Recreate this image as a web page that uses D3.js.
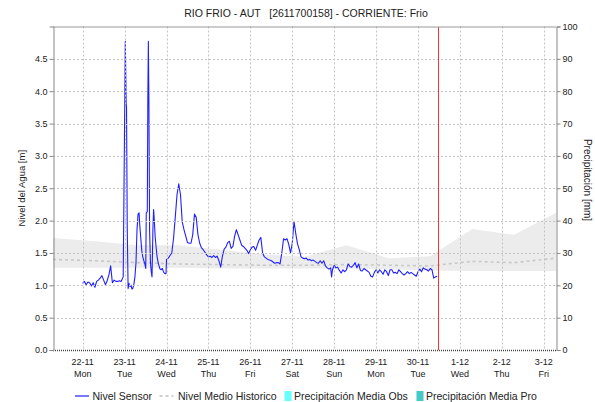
<!DOCTYPE html>
<html>
<head>
<meta charset="utf-8">
<script src="https://cdn.jsdelivr.net/npm/d3@7"></script>
<style>
  html, body { margin: 0; padding: 0; background: #fff; }
  svg { display: block; font-family: "Liberation Sans", Arial, sans-serif; }
</style>
</head>
<body>
<svg id="chart" width="595" height="402"></svg>
<script>
// Station title
const chartTitle = "RIO FRIO - AUT   [2611700158] - CORRIENTE: Frio";

// Sensor level: hours since 22-11 00:00 and level in metres
const sensorHours = [
  0,1,2,3,4,5,6,7,8,9,10,11,12,13,14,15,16,17,18,19,20,21,22,
  23.2,23.8,24.4,24.9,25.1,25.5,26,
  26.5,27.1,27.7,28.2,28.8,29.4,29.9,30.5,31.1,31.7,32.3,32.6,33.2,33.8,34.4,34.9,35.5,36.1,
  36.4,37.0,37.3,37.6,37.9,38.3,38.8,39.3,39.7,40.2,40.6,41.0,41.5,42.0,42.6,43.3,44.1,44.8,45.6,46.4,47.1,47.7,
  48,49,50,51,52,53,54,55,56,57,58,59,60,61,62,63,64,65,66,67,68,69,70,71,72,73,74,75,76,77,78,79,
  80,81,82,83,84,85,86,87,88,89,90,91,92,93,94,95,96,97,98,99,100,101,102,103,104,105,106,107,108,109,
  110,111,112,113,114,115,116,117,118,119,120,121,122,123,124,125,126,127,128,129,130,131,132,133,134,
  135,136,137,138,139,140,141,142,142.5,143,144,145,146,147,148,149,150,151,152,153,154,155,156,157,158,
  159,160,161,162,163,164,165,166,167,168,169,170,171,172,173,174,175,176,177,178,179,180,181,182,183,
  184,185,186,187,188,189,190,191,192,193,194,195,196,197,198,199,200,201,202,203
];
const sensorLevel = [
  1.03,1.06,1.01,1.05,1.04,0.99,1.04,0.97,1.06,1.08,1.11,1.15,1.08,1.01,1.07,1.16,1.30,1.04,1.08,1.06,1.06,1.07,1.06,
  1.13,2.94,4.77,3.80,3.75,1.91,0.95,
  1.03,0.98,1.00,0.94,0.96,1.03,1.13,1.34,1.86,2.10,2.12,1.96,1.75,1.54,1.44,1.39,1.34,1.26,
  2.12,2.14,3.89,4.77,3.90,1.86,1.35,1.20,1.13,1.86,2.17,2.01,1.75,1.60,1.44,1.34,1.26,1.24,1.26,1.20,1.18,1.18,
  1.40,1.42,1.46,1.50,1.72,2.05,2.40,2.57,2.40,1.98,1.86,1.76,1.66,1.65,1.65,1.78,2.10,2.05,1.78,1.65,1.58,1.55,1.51,1.47,1.44,1.45,1.43,1.46,1.43,1.45,1.38,1.28,
  1.45,1.56,1.59,1.66,1.68,1.57,1.60,1.76,1.86,1.78,1.70,1.62,1.60,1.57,1.54,1.49,1.55,1.59,1.60,1.54,1.62,1.70,1.74,1.50,1.44,1.42,1.40,1.39,1.38,1.36,
  1.34,1.35,1.35,1.33,1.50,1.72,1.70,1.72,1.63,1.50,1.65,1.99,1.80,1.64,1.55,1.44,1.42,1.41,1.42,1.39,1.40,1.38,1.39,1.37,1.35,
  1.34,1.38,1.34,1.38,1.30,1.27,1.25,1.27,1.13,1.24,1.31,1.27,1.28,1.23,1.19,1.24,1.21,1.24,1.33,1.29,1.28,1.31,1.35,1.27,1.33,
  1.23,1.22,1.26,1.24,1.22,1.20,1.14,1.13,1.20,1.24,1.19,1.24,1.21,1.17,1.24,1.21,1.15,1.24,1.24,1.19,1.20,1.18,1.24,1.21,1.18,
  1.16,1.18,1.21,1.18,1.20,1.18,1.16,1.14,1.21,1.25,1.21,1.27,1.25,1.24,1.22,1.26,1.24,1.11,1.13,1.14
];

// Historic daily statistics (07:00 each day)
const historicDays = ["2021-11-21","2021-11-22","2021-11-23","2021-11-24","2021-11-25","2021-11-26","2021-11-27",
                      "2021-11-28","2021-11-29","2021-11-30","2021-12-01","2021-12-02","2021-12-03"];
const historicMax  = [1.73,1.68,1.62,1.62,1.55,1.48,1.44,1.62,1.42,1.45,1.87,1.78,2.12];
const historicMin  = [1.27,1.27,1.27,1.27,1.26,1.26,1.26,1.26,1.25,1.23,1.22,1.22,1.22];
const historicMean = [1.40,1.38,1.35,1.33,1.32,1.31,1.31,1.32,1.31,1.30,1.37,1.35,1.42];

// Axis ticks
const levelTicks = [0,0.5,1,1.5,2,2.5,3,3.5,4,4.5];
const rainTicks = [0,10,20,30,40,50,60,70,80,90,100];

// Legend entries
const legendItems = [
  {label: "Nivel Sensor", kind: "line"},
  {label: "Nivel Medio Historico", kind: "dash"},
  {label: "Precipitación Media Obs", kind: "obs"},
  {label: "Precipitación Media Pro", kind: "pro"}
];

const nowTime = new Date(Date.UTC(2021, 10, 30, 12));
const startTime = new Date(Date.UTC(2021, 10, 21, 7));
const endTime = new Date(Date.UTC(2021, 11, 3, 7));
const seriesOrigin = Date.UTC(2021, 10, 22, 0);

const svg = d3.select("#chart");
const m = {left: 53, right: 556, top: 26.5, bottom: 350};

const x = d3.scaleUtc().domain([startTime, endTime]).range([m.left, m.right]);
const yL = d3.scaleLinear().domain([0, 5]).range([m.bottom, m.top]);
const yR = d3.scaleLinear().domain([0, 100]).range([m.bottom, m.top]);

const sensor = sensorHours.map((h, i) => ({t: new Date(seriesOrigin + h * 3600e3), v: sensorLevel[i]}));
const historic = historicDays.map((d, i) => ({
  t: new Date(Date.parse(d + "T07:00:00Z")), max: historicMax[i], min: historicMin[i], mean: historicMean[i]
}));

const dayTicks = d3.utcDay.range(d3.utcDay.ceil(startTime), endTime);

// Title (keeps its run of spaces)
svg.append("text").attr("x", 306).attr("y", 17)
  .attr("text-anchor", "middle").attr("font-size", 10.5).attr("fill", "#222")
  .style("white-space", "pre").text(chartTitle);

// Plot clip
svg.append("clipPath").attr("id", "plotClip").append("rect")
  .attr("x", m.left).attr("y", m.top).attr("width", m.right - m.left).attr("height", m.bottom - m.top);
const plot = svg.append("g").attr("clip-path", "url(#plotClip)");

// Historic range band
plot.append("path").datum(historic)
  .attr("fill", "#ececec")
  .attr("d", d3.area().x(d => x(d.t)).y0(d => yL(d.min)).y1(d => yL(d.max)));

// Grid
const grid = svg.append("g").attr("stroke", "#c4c4c4").attr("stroke-width", 1).attr("stroke-dasharray", "2,2");
grid.selectAll("line.v").data(dayTicks).join("line").attr("class", "v")
  .attr("x1", d => Math.round(x(d)) + 0.5).attr("x2", d => Math.round(x(d)) + 0.5)
  .attr("y1", m.top).attr("y2", m.bottom);
grid.selectAll("line.h").data(levelTicks.filter(v => v > 0)).join("line").attr("class", "h")
  .attr("x1", m.left).attr("x2", m.right)
  .attr("y1", d => Math.round(yL(d)) + 0.5).attr("y2", d => Math.round(yL(d)) + 0.5);

// Historic mean
plot.append("path").datum(historic)
  .attr("fill", "none").attr("stroke", "#c8c8c8").attr("stroke-width", 1.6).attr("stroke-dasharray", "3,3")
  .attr("d", d3.line().x(d => x(d.t)).y(d => yL(d.mean)));

// Sensor level
plot.append("path").datum(sensor)
  .attr("fill", "none").attr("stroke", "#2020ff").attr("stroke-width", 1.1).attr("stroke-linejoin", "round")
  .attr("d", d3.line().x(d => x(d.t)).y(d => yL(d.v)));

// Current time marker
const nowX = Math.floor(x(nowTime)) + 0.5;
svg.append("path").attr("class", "now-marker")
  .attr("d", `M${nowX},${m.top}V${m.bottom}`)
  .attr("shape-rendering", "crispEdges")
  .style("stroke", "#ff3030").style("stroke-width", "1px").style("fill", "none");

// Plot frame
svg.append("line").attr("x1", m.left).attr("x2", m.right).attr("y1", m.top + 0.5).attr("y2", m.top + 0.5)
  .attr("stroke", "#999");
svg.append("line").attr("x1", m.left).attr("x2", m.right).attr("y1", m.bottom + 0.5).attr("y2", m.bottom + 0.5)
  .attr("stroke", "#444").attr("stroke-width", 1.5).attr("stroke-dasharray", "1,1");

// Left axis
const axL = svg.append("g").attr("transform", `translate(${m.left + 0.5},0)`)
  .call(d3.axisLeft(yL).tickValues(levelTicks).tickFormat(d3.format(".1f")).tickSize(4).tickPadding(2));
// Right axis
const axR = svg.append("g").attr("transform", `translate(${m.right + 0.5},0)`)
  .call(d3.axisRight(yR).tickValues(rainTicks).tickSize(4).tickPadding(2));
[axL, axR].forEach(a => {
  a.select(".domain").attr("stroke", "#888");
  a.selectAll(".tick line").attr("stroke", "#888");
  a.selectAll(".tick text").attr("font-size", 9).attr("fill", "#222").attr("font-family", "Liberation Sans, Arial, sans-serif");
});

// Bottom axis: date and weekday
const fmtDate = d3.utcFormat("%-d-%m");
const fmtDay = d3.utcFormat("%a");
const axB = svg.append("g");
axB.selectAll("text.d").data(dayTicks).join("text").attr("class", "d")
  .attr("x", d => x(d)).attr("y", 365).attr("text-anchor", "middle")
  .attr("font-size", 9).attr("fill", "#222").text(d => fmtDate(d));
axB.selectAll("text.w").data(dayTicks).join("text").attr("class", "w")
  .attr("x", d => x(d)).attr("y", 377).attr("text-anchor", "middle")
  .attr("font-size", 9).attr("fill", "#222").text(d => fmtDay(d));

// Axis titles
svg.append("text").attr("transform", `translate(25,${(m.top + m.bottom) / 2}) rotate(-90)`)
  .attr("text-anchor", "middle").attr("font-size", 9.5).attr("fill", "#222").text("Nivel del Agua [m]");
svg.append("text").attr("transform", `translate(584,180) rotate(90)`)
  .attr("text-anchor", "middle").attr("font-size", 10).attr("fill", "#222").text("Precipitación [mm]");

// Legend: symbol and label positions along the bottom row
const legendSymbolX = [75, 159.5, 284.5, 416.5];
const legendTextX = [92.5, 178, 294, 426];
const legend = svg.append("g").attr("transform", "translate(0,396)");
legendItems.forEach((item, i) => {
  const sx = legendSymbolX[i];
  if (item.kind === "line") {
    legend.append("line").attr("x1", sx).attr("x2", sx + 14).attr("y1", 0).attr("y2", 0)
      .attr("stroke", "#2020ff").attr("stroke-width", 1.2);
  } else if (item.kind === "dash") {
    legend.append("line").attr("x1", sx).attr("x2", sx + 14).attr("y1", 0).attr("y2", 0)
      .attr("stroke", "#c0c0c0").attr("stroke-width", 1.4).attr("stroke-dasharray", "3,3");
  } else {
    legend.append("rect").attr("x", sx).attr("y", -5).attr("width", 7).attr("height", 10)
      .attr("fill", item.kind === "obs" ? "#66ffff" : "#44c8c8");
  }
  legend.append("text").attr("x", legendTextX[i]).attr("y", 4).attr("font-size", 10.5)
    .attr("fill", "#222").text(item.label);
});
</script>
</body>
</html>
